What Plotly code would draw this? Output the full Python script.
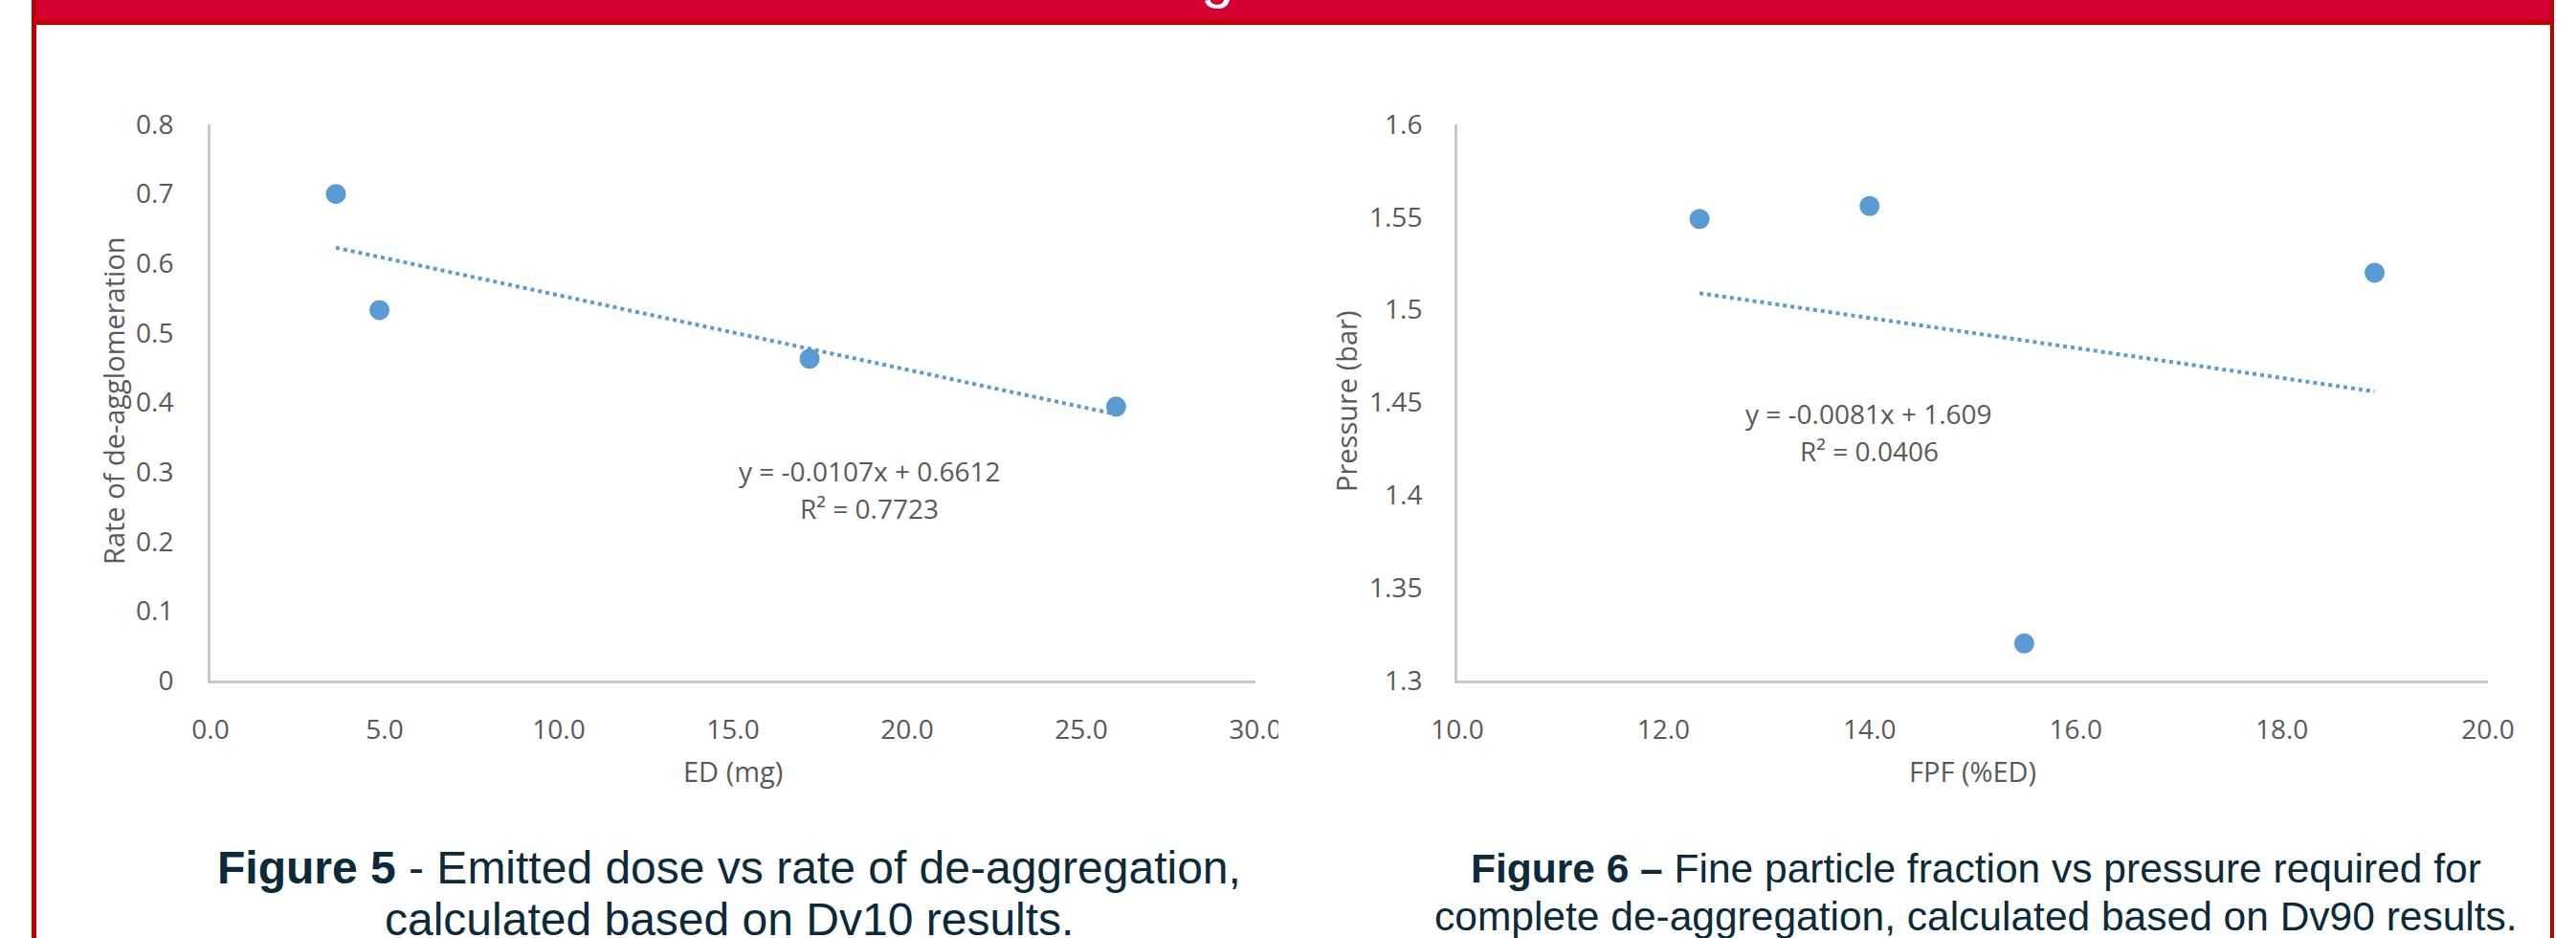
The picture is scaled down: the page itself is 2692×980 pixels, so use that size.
import numpy as np
import plotly.graph_objects as go

W, H = 2692, 980

# Figure 5: emitted dose vs rate of de-agglomeration (Dv10)
ed_mg = [3.6, 4.85, 17.2, 26.0]
rate_deagg = [0.700, 0.533, 0.463, 0.394]
fit5_slope, fit5_intercept, fit5_r2 = -0.0107, 0.6612, 0.7723

# Figure 6: fine particle fraction vs pressure (Dv90)
fpf_pct = [12.35, 14.0, 15.5, 18.9]
pressure_bar = [1.549, 1.556, 1.320, 1.520]
fit6_slope, fit6_intercept, fit6_r2 = -0.0081, 1.609, 0.0406

x5_ticks = [0, 5, 10, 15, 20, 25, 30]
x6_ticks = [10, 12, 14, 16, 18, 20]

BLUE = "#5B9BD5"
GREY_TXT = "#595959"
AXIS_GREY = "#C8C8C8"
CAPTION = "#0B2A3A"
BANNER = "#D50032"
BORDER = "#C00000"
TICK_FONT = dict(family="Open Sans", size=28, color=GREY_TXT)
TREND_LINE = dict(color=BLUE, width=4, dash="4px,4px")


def fx(p):
    return p / W


def fy(p):
    return 1 - p / H


def trend(xs, slope, intercept):
    xt = np.array([min(xs), max(xs)])
    return xt, slope * xt + intercept


fig = go.Figure()

fig.add_trace(go.Scatter(x=ed_mg, y=rate_deagg, mode="markers",
                         marker=dict(size=21, color=BLUE),
                         xaxis="x", yaxis="y", showlegend=False))
tx5, ty5 = trend(ed_mg, fit5_slope, fit5_intercept)
fig.add_trace(go.Scatter(x=tx5, y=ty5, mode="lines", line=TREND_LINE,
                         xaxis="x", yaxis="y", showlegend=False))

fig.add_trace(go.Scatter(x=fpf_pct, y=pressure_bar, mode="markers",
                         marker=dict(size=21, color=BLUE),
                         xaxis="x2", yaxis="y2", showlegend=False))
tx6, ty6 = trend(fpf_pct, fit6_slope, fit6_intercept)
fig.add_trace(go.Scatter(x=tx6, y=ty6, mode="lines", line=TREND_LINE,
                         xaxis="x2", yaxis="y2", showlegend=False))

axis_common = dict(showline=True, linecolor=AXIS_GREY, linewidth=3,
                   showgrid=False, zeroline=False, ticks="", automargin=False,
                   tickfont=TICK_FONT, fixedrange=True)

y_dom = [fy(711), fy(130)]

fig.update_layout(
    width=W, height=H, autosize=False,
    margin=dict(l=0, r=0, t=0, b=0, pad=0, autoexpand=False),
    paper_bgcolor="white", plot_bgcolor="white",
    xaxis=dict(domain=[fx(220), fx(1312)], range=[0, 30],
               tickvals=x5_ticks, tickformat=".1f",
               ticklabelstandoff=24, anchor="y", **axis_common),
    yaxis=dict(domain=y_dom, range=[0, 0.8], tick0=0, dtick=0.1,
               ticklabelstandoff=30, anchor="x", **axis_common),
    xaxis2=dict(domain=[fx(1523), fx(2600)], range=[10, 20],
                tickvals=x6_ticks, tickformat=".1f",
                ticklabelstandoff=24, anchor="y2", **axis_common),
    yaxis2=dict(domain=y_dom, range=[1.3, 1.6], tick0=1.3, dtick=0.05,
                ticklabelstandoff=28, anchor="x2", **axis_common),
)

annotations = []


def label(text, x, y, size=28, color=GREY_TXT, family="Open Sans",
          angle=0, xanchor="center", yanchor="middle"):
    annotations.append(dict(text=text, x=fx(x), y=fy(y), xref="paper", yref="paper",
                            showarrow=False, textangle=angle,
                            xanchor=xanchor, yanchor=yanchor,
                            font=dict(family=family, size=size, color=color)))


# axis titles
label("Rate of de-agglomeration", 118, 418, size=29, angle=-90)
label("ED (mg)", 766, 805, size=29)
label("Pressure (bar)", 1406, 419, size=29, angle=-90)
label("FPF (%ED)", 2061, 805, size=29)

# trendline equations
label(f"y = {fit5_slope}x + {fit5_intercept}", 909, 492)
label(f"R² = {fit5_r2}", 908, 531)
label(f"y = {fit6_slope}x + {fit6_intercept}", 1953, 432)
label(f"R² = {fit6_r2}", 1953, 471)

# figure captions
label("<b>Figure 5</b> - Emitted dose vs rate of de-aggregation,", 762, 906,
      size=48, color=CAPTION, family="Liberation Sans")
label("calculated based on Dv10 results.", 762, 960,
      size=48, color=CAPTION, family="Liberation Sans")
label("<b>Figure 6 –</b> Fine particle fraction vs pressure required for", 2065, 907,
      size=42.5, color=CAPTION, family="Liberation Sans")
label("complete de-aggregation, calculated based on Dv90 results.", 2065, 957,
      size=42.5, color=CAPTION, family="Liberation Sans")

# section heading in the banner (mostly above the page edge)
label("g", 1272, 11, size=62, color="white", family="Liberation Sans",
      yanchor="bottom")

fig.update_layout(annotations=annotations)

shapes = [
    # red banner and its darker lower edge
    dict(type="rect", xref="paper", yref="paper", x0=fx(33), x1=fx(2669),
         y0=fy(26), y1=1, fillcolor=BORDER, line_width=0, layer="below"),
    dict(type="rect", xref="paper", yref="paper", x0=fx(38), x1=fx(2665),
         y0=fy(21), y1=1, fillcolor=BANNER, line_width=0, layer="below"),
    # side borders of the panel
    dict(type="rect", xref="paper", yref="paper", x0=fx(33), x1=fx(38),
         y0=0, y1=fy(21), fillcolor=BORDER, line_width=0, layer="below"),
    dict(type="rect", xref="paper", yref="paper", x0=fx(2665), x1=fx(2669),
         y0=0, y1=fy(21), fillcolor=BORDER, line_width=0, layer="below"),
    # the left chart is cropped at its right edge
    dict(type="rect", xref="paper", yref="paper", x0=fx(1336), x1=fx(1400),
         y0=fy(790), y1=fy(725), fillcolor="white", line_width=0, layer="above"),
]
fig.update_layout(shapes=shapes)

fig.write_html("out.html")
